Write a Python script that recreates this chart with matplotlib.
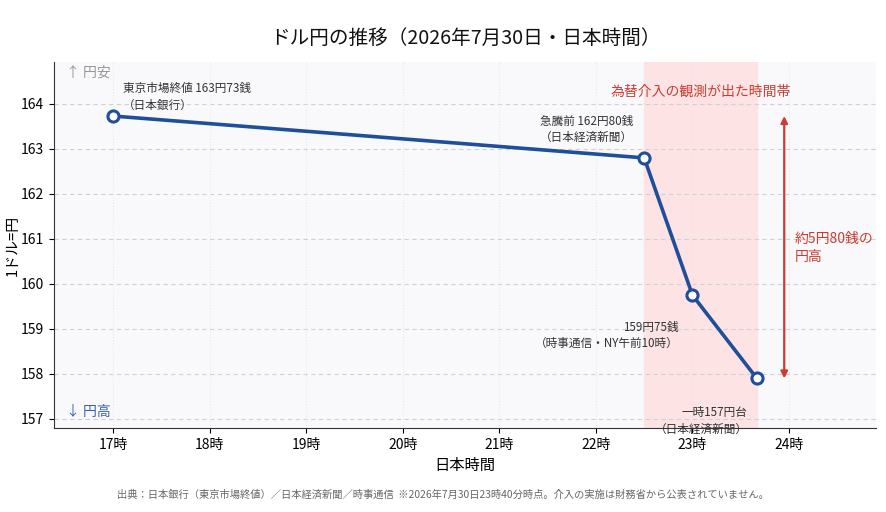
import matplotlib
matplotlib.use("Agg")
import matplotlib.pyplot as plt

plt.rcParams['font.family'] = ['Noto Sans CJK JP', 'DejaVu Sans']

hours = [17.0, 22.5, 23.0, 23.667]
rates = [163.73, 162.80, 159.75, 157.90]
xticks = [17, 18, 19, 20, 21, 22, 23, 24]
xticklabels = ["17時", "18時", "19時", "20時", "21時", "22時", "23時", "24時"]
yticks = [157, 158, 159, 160, 161, 162, 163, 164]
band = (22.5, 23.667)
labels = ["東京市場終値 163円73銭\n（日本銀行）",
          "急騰前 162円80銭\n（日本経済新聞）",
          "159円75銭\n（時事通信・NY午前10時）",
          "一時157円台\n（日本経済新聞）"]

blue = "#1f4e9a"
red = "#cc3b2f"

fig = plt.figure(figsize=(8.87, 5.12), dpi=100)
ax = fig.add_axes([54/887, 1-428/512, (876-54)/887, (428-62)/512])
ax.set_facecolor("#f9f9fc")

ax.set_xlim(16.39, 24.9)
ax.set_ylim(156.8, 164.93)

ax.axvspan(band[0], band[1], color="#fde3e3", zorder=0)

for y in yticks:
    ax.axhline(y, color="#d0d0d8", lw=0.8, ls=(0, (4, 3)), zorder=0.5)
for x in xticks:
    ax.axvline(x, color="#e4e4ea", lw=0.7, ls=(0, (1, 2)), zorder=0.5)

ax.plot(hours, rates, color=blue, lw=2.6, zorder=3,
        marker='o', markersize=8, markerfacecolor='white',
        markeredgecolor=blue, markeredgewidth=2.2)

ax.set_xticks(xticks)
ax.set_xticklabels(xticklabels, fontsize=10)
ax.set_yticks(yticks)
ax.set_yticklabels([str(v) for v in yticks], fontsize=10)
ax.set_xlabel("日本時間", fontsize=11)
ax.set_ylabel("1ドル=円", fontsize=10.7, labelpad=1)

for s in ["top", "right"]:
    ax.spines[s].set_visible(False)
for s in ["left", "bottom"]:
    ax.spines[s].set_color("#333333")

fs = 8.4
ax.text(17.1, 164.15, labels[0], fontsize=fs, color="#333333", ha='left', va='center', linespacing=1.35)
ax.text(21.9, 163.43, labels[1], fontsize=fs, color="#333333", ha='center', va='center', linespacing=1.35)
ax.text(22.86, 158.86, labels[2], fontsize=fs, color="#333333", ha='right', va='center', linespacing=1.35)
ax.text(23.57, 156.96, labels[3], fontsize=fs, color="#333333", ha='right', va='center', linespacing=1.35)

ax.text((band[0]+band[1])/2, 164.27, "為替介入の観測が出た時間帯", fontsize=10, color=red,
        ha='center', va='center')

ax.annotate("", xy=(23.95, rates[0]), xytext=(23.95, rates[3]),
            arrowprops=dict(arrowstyle='<|-|>', color=red, lw=1.6,
                            mutation_scale=10, shrinkA=0, shrinkB=0))
ax.text(24.06, 160.8, "約5円80銭の\n円高", fontsize=10, color=red, ha='left', va='center',
        linespacing=1.3)

ax.text(0.015, 0.97, "↑ 円安", transform=ax.transAxes, fontsize=10, color="#999999",
        ha='left', va='center')
ax.text(0.015, 0.045, "↓ 円高", transform=ax.transAxes, fontsize=10, color="#3a63b0",
        ha='left', va='center')

fig.text(465/887, 1-38/512, "ドル円の推移（2026年7月30日・日本時間）", fontsize=14.1,
         ha='center', va='center', color="#111111")
fig.text(443/887, 1-495/512,
         "出典：日本銀行（東京市場終値）／日本経済新聞／時事通信  ※2026年7月30日23時40分時点。介入の実施は財務省から公表されていません。",
         fontsize=7.4, ha='center', va='center', color="#666666")

fig.savefig("out.png", dpi=100)
